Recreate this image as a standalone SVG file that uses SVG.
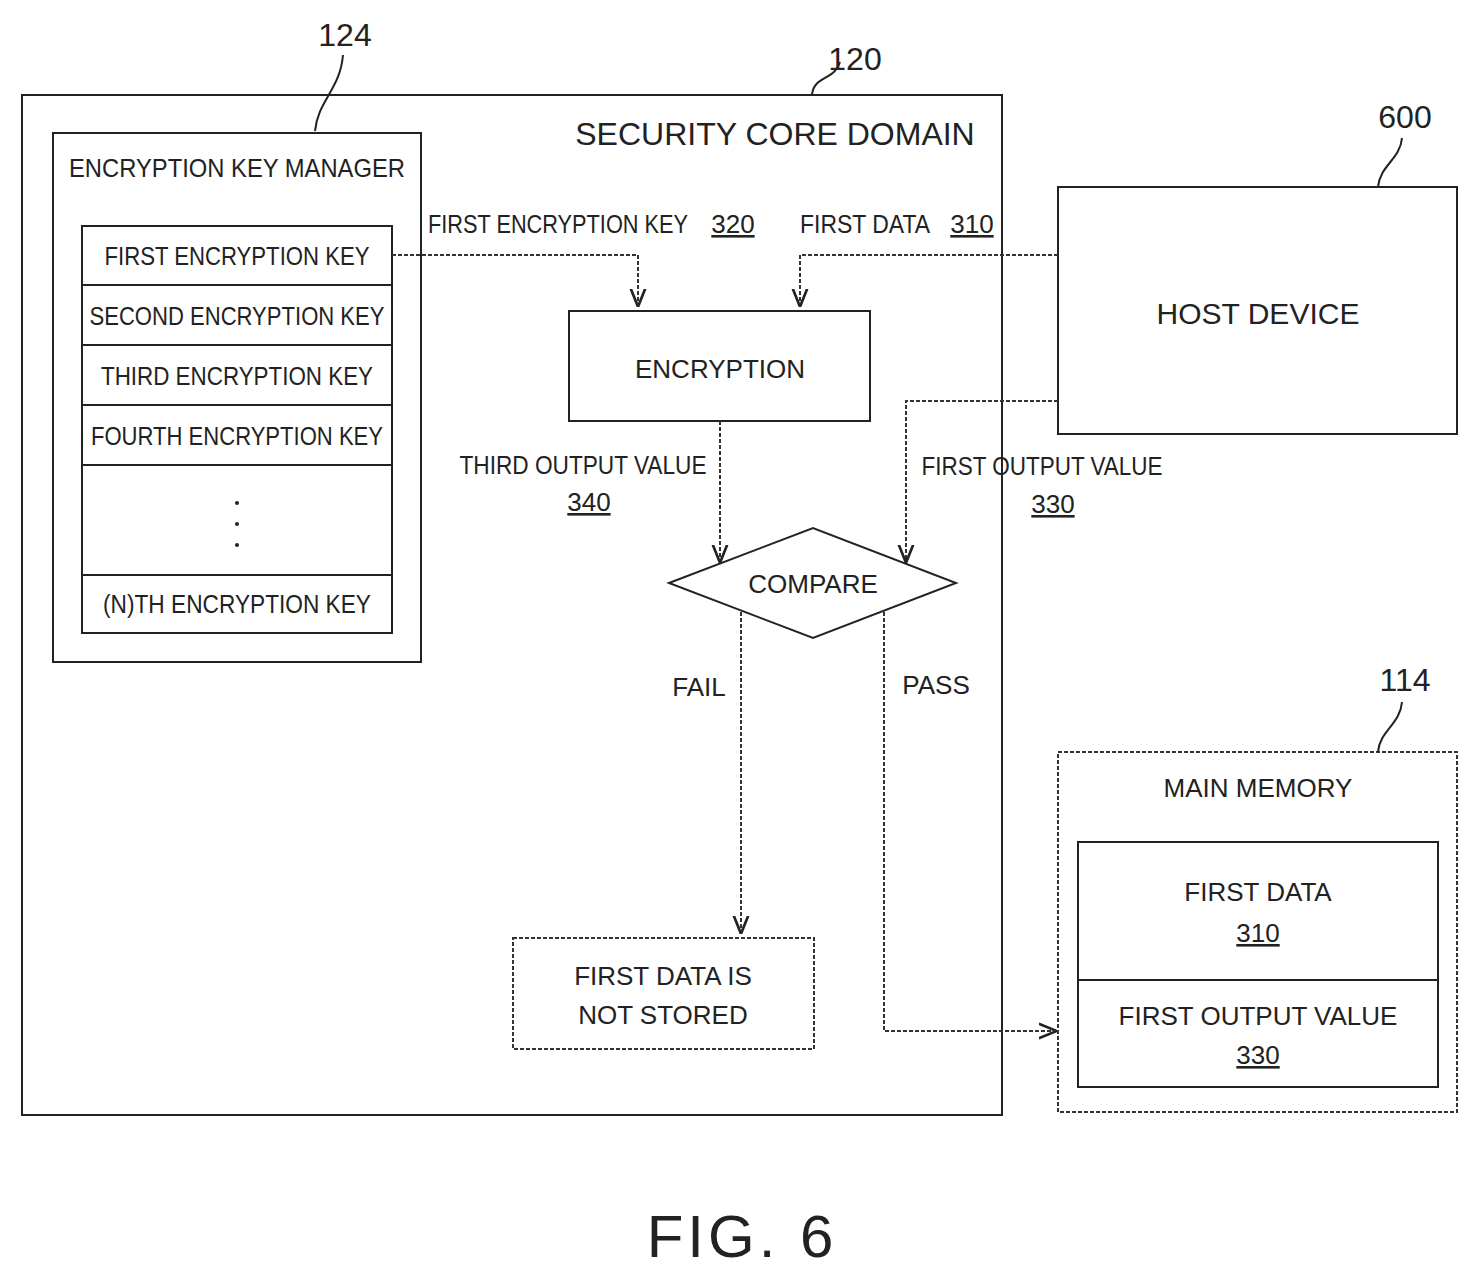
<svg xmlns="http://www.w3.org/2000/svg" width="1479" height="1278" viewBox="0 0 1479 1278">
<defs>
<style>
.b{fill:none;stroke:#222;stroke-width:2}
.c{fill:none;stroke:#333;stroke-width:2;stroke-dasharray:4 2}
text{font-family:"Liberation Sans",Arial,sans-serif;font-size:26px;fill:#222;text-anchor:middle}
.u{text-decoration:underline}
</style>
<marker id="a" viewBox="0 0 10 10" refX="9" refY="5" markerWidth="9" markerHeight="9" orient="auto"><path d="M0,1 L10,5 L0,9" fill="none" stroke="#222" stroke-width="1.5"/></marker>
</defs>
<rect width="1479" height="1278" fill="#fff"/>
<g id="domain">
<rect class="b" x="22" y="95" width="980" height="1020"/>
<text x="775" y="145" style="font-size:32px">SECURITY CORE DOMAIN</text>
<text x="855" y="70" style="font-size:32px">120</text>
<path class="b" d="M812,94 C815,75 835,80 840,62"/>
</g>
<g id="keymanager">
<rect class="b" x="53" y="133" width="368" height="529"/>
<text x="237" y="177" textLength="336" lengthAdjust="spacingAndGlyphs">ENCRYPTION KEY MANAGER</text>
<text x="345" y="46" style="font-size:32px">124</text>
<path class="b" d="M315,131 C318,100 340,90 343,55"/>
<rect class="b" x="82" y="226" width="310" height="407"/>
<path class="b" d="M82,285H392M82,345H392M82,405H392M82,465H392M82,575H392"/>
<text x="237" y="265" textLength="265" lengthAdjust="spacingAndGlyphs">FIRST ENCRYPTION KEY</text>
<text x="237" y="325" textLength="295" lengthAdjust="spacingAndGlyphs">SECOND ENCRYPTION KEY</text>
<text x="237" y="385" textLength="272" lengthAdjust="spacingAndGlyphs">THIRD ENCRYPTION KEY</text>
<text x="237" y="445" textLength="292" lengthAdjust="spacingAndGlyphs">FOURTH ENCRYPTION KEY</text>
<circle cx="237" cy="503" r="2" fill="#222"/><circle cx="237" cy="524" r="2" fill="#222"/><circle cx="237" cy="545" r="2" fill="#222"/>
<text x="237" y="613" textLength="268" lengthAdjust="spacingAndGlyphs">(N)TH ENCRYPTION KEY</text>
</g>
<g id="encryption"><rect class="b" x="569" y="311" width="301" height="110"/><text x="720" y="378">ENCRYPTION</text></g>
<g id="host"><rect class="b" x="1058" y="187" width="399" height="247"/><text x="1258" y="324" style="font-size:30px">HOST DEVICE</text>
<text x="1405" y="128" style="font-size:32px">600</text><path class="b" d="M1378,187 C1380,165 1400,160 1402,138"/></g>
<g id="compare"><path class="b" d="M669,583 L813,528 L956,583 L813,638Z"/><text x="813" y="593">COMPARE</text></g>
<g id="notstored"><rect class="c" x="513" y="938" width="301" height="111"/><text x="663" y="985">FIRST DATA IS</text><text x="663" y="1024">NOT STORED</text></g>
<g id="memory"><rect class="c" x="1058" y="752" width="399" height="360"/><text x="1258" y="797">MAIN MEMORY</text>
<text x="1405" y="691" style="font-size:32px">114</text><path class="b" d="M1378,752 C1380,730 1400,725 1402,702"/>
<rect class="b" x="1078" y="842" width="360" height="245"/><path class="b" d="M1078,980H1438"/>
<text x="1258" y="901">FIRST DATA</text><text x="1258" y="942" class="u">310</text>
<text x="1258" y="1025">FIRST OUTPUT VALUE</text><text x="1258" y="1064" class="u">330</text></g>
<g id="connectors">
<path class="c" d="M392,255H638V305" marker-end="url(#a)"/>
<path class="c" d="M1058,255H800V305" marker-end="url(#a)"/>
<path class="c" d="M720,421V561" marker-end="url(#a)"/>
<path class="c" d="M1058,401H906V561" marker-end="url(#a)"/>
<path class="c" d="M741,612V932" marker-end="url(#a)"/>
<path class="c" d="M884,612V1031H1055" marker-end="url(#a)"/>
<text x="558" y="233" textLength="260" lengthAdjust="spacingAndGlyphs">FIRST ENCRYPTION KEY</text><text x="733" y="233" class="u">320</text>
<text x="865" y="233" textLength="130" lengthAdjust="spacingAndGlyphs">FIRST DATA</text><text x="972" y="233" class="u">310</text>
<text x="583" y="474" textLength="247" lengthAdjust="spacingAndGlyphs">THIRD OUTPUT VALUE</text><text x="589" y="511" class="u">340</text>
<text x="1042" y="475" textLength="241" lengthAdjust="spacingAndGlyphs">FIRST OUTPUT VALUE</text><text x="1053" y="513" class="u">330</text>
<text x="699" y="696">FAIL</text><text x="936" y="694">PASS</text>
</g>
<text x="742" y="1257" style="font-size:60px;letter-spacing:4px">FIG. 6</text>
</svg>
